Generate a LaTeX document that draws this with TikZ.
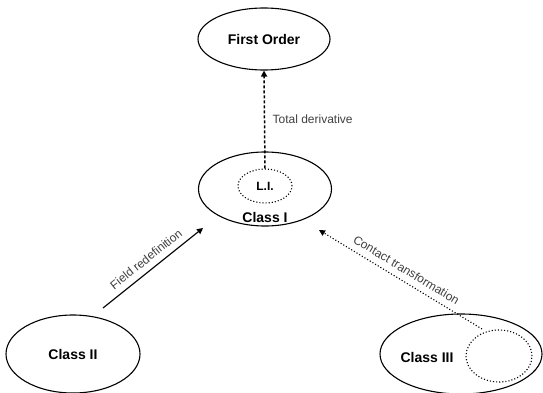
\documentclass[tikz,border=0pt]{standalone}
\usepackage{fontspec}
\setmainfont{Liberation Sans}
\usetikzlibrary{shapes.geometric,arrows.meta}
\begin{document}
\begin{tikzpicture}[x=1pt,y=-1pt,
  ell/.style={draw, ellipse, line width=1.1pt, inner sep=0pt},
  dotell/.style={draw, ellipse, line width=1.1pt, inner sep=0pt, dash pattern=on 1.1pt off 2pt},
  nodetext/.style={font=\bfseries\fontsize{14}{16}\selectfont},
  smalltext/.style={font=\bfseries\fontsize{12}{14}\selectfont},
  lbl/.style={font=\fontsize{12}{14}\selectfont, text=black!75},
  tip/.style={-{Triangle[length=6pt,width=6pt]}}
]
\useasboundingbox (0,0) rectangle (543,393);
\node[ell, minimum width=132pt, minimum height=62pt, nodetext] (fo) at (264,39) {First Order};
\node[ell, minimum width=133pt, minimum height=74pt] (c1) at (265,189) {};
\node[dotell, minimum width=54pt, minimum height=34pt, smalltext] (li) at (265,186) {L.I.};
\node[nodetext] (c1t) at (265,217) {Class I};
\node[ell, minimum width=134pt, minimum height=78pt, nodetext] (c2) at (73,354) {Class II};
\node[ell, minimum width=162pt, minimum height=80pt] (c3) at (461,354) {};
\node[nodetext] (c3t) at (427,357) {Class III};
\node[dotell, minimum width=66pt, minimum height=52pt] (c3in) at (499,356) {};
\coordinate (f1) at (103,308);
\coordinate (f2) at (203,228);
\coordinate (k1) at (482,329);
\coordinate (k2) at (319,230);
\draw[tip, line width=1.5pt, dash pattern=on 3pt off 2pt] (li.north) -- (fo.south)
  node[lbl, pos=0.5, right=4pt] (tdl) {Total derivative};
\draw[tip, line width=1.1pt] (f1) -- (f2)
  node[lbl, midway, sloped, above=3pt] (frl) {Field redefinition};
\draw[tip, line width=1.1pt, dash pattern=on 1.1pt off 2pt] (k1) -- (k2)
  node[lbl, midway, sloped, above=3pt] (ctl) {Contact transformation};
\end{tikzpicture}
\end{document}
